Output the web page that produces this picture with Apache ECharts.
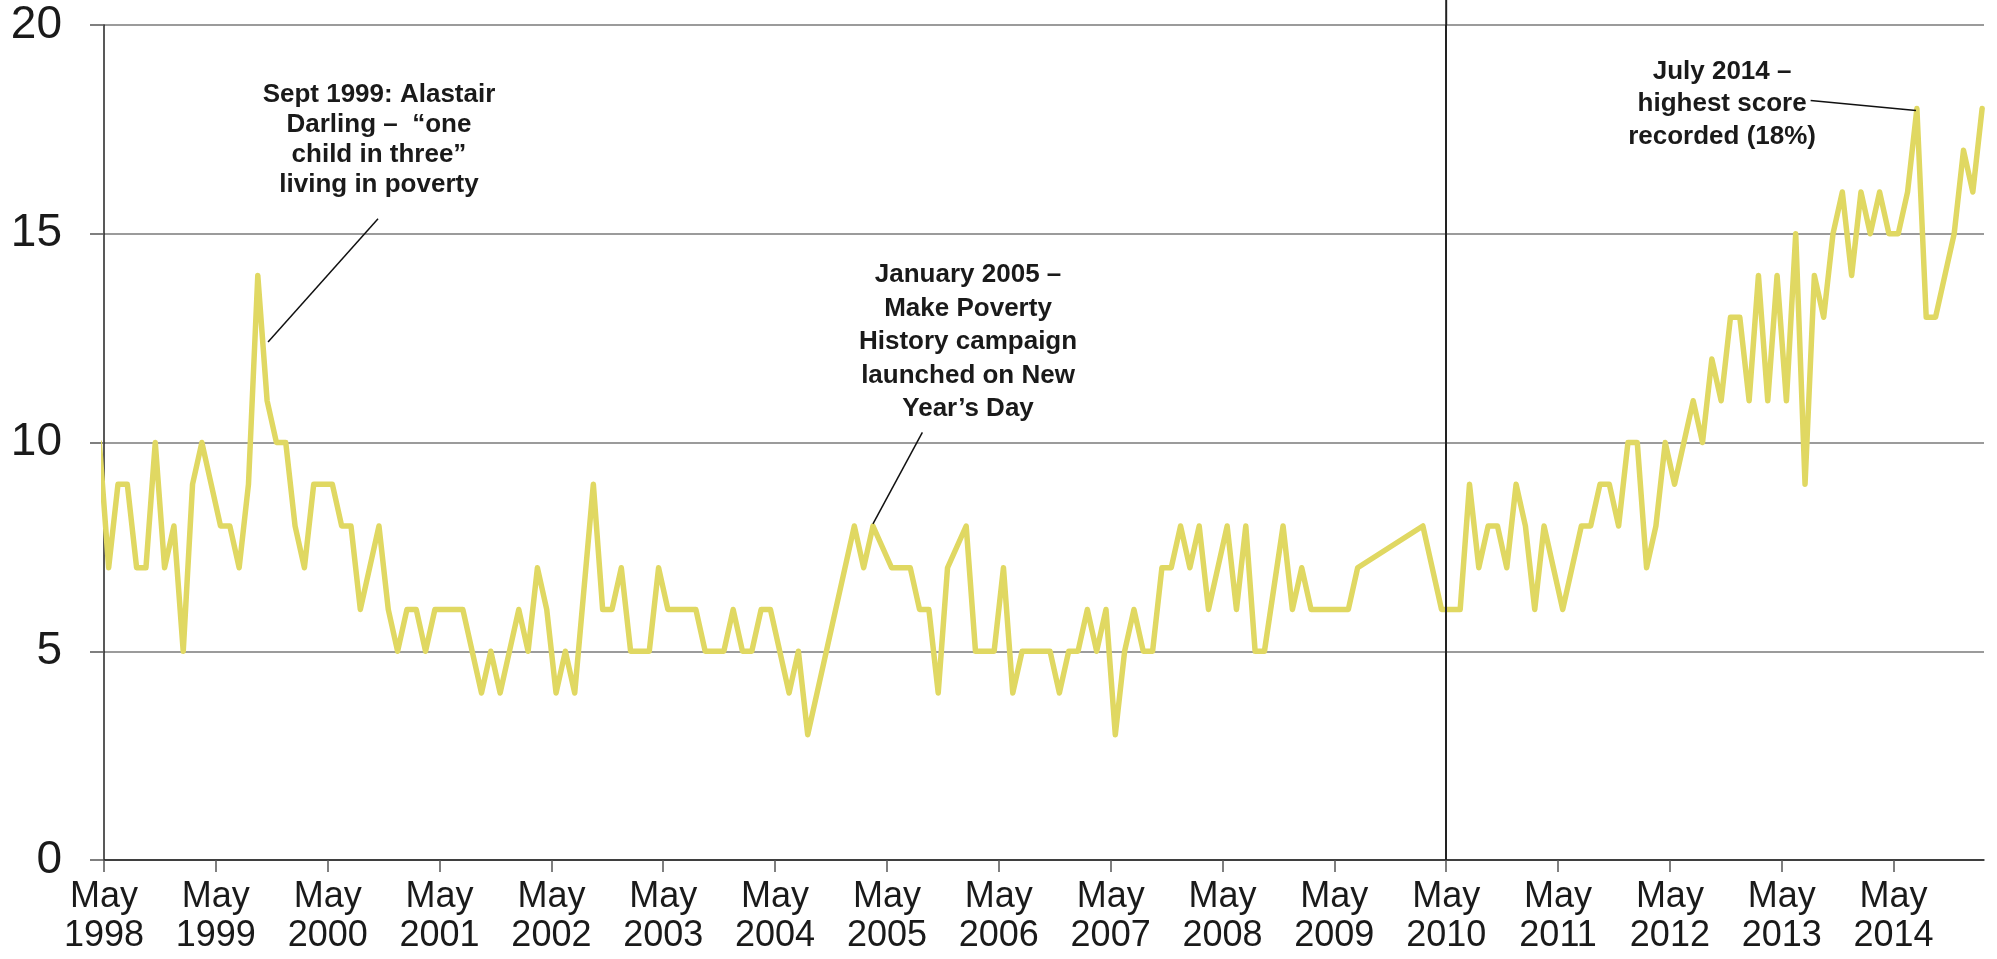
<!DOCTYPE html>
<html>
<head>
<meta charset="utf-8">
<style>
  html, body { margin: 0; padding: 0; background: #fff; }
  #chart { width: 1997px; height: 959px; }
</style>
<script src="https://cdn.jsdelivr.net/npm/echarts@6/dist/echarts.min.js"></script>
</head>
<body>
<div id="chart"></div>
<script>
// monthly scores (%), one array per calendar year; null = no survey that month
const y1998 = [10, 7, 9, 9, 7, 7, 10, 7, 8]            // Apr-Dec
const y1999 = [5, 9, 10, 9, 8, 8, 7, 9, 14, 11, 10, 10]
const y2000 = [8, 7, 9, 9, 9, 8, 8, 6, 7, 8, 6, 5]
const y2001 = [6, 6, 5, 6, 6, 6, 6, 5, 4, 5, 4, 5]
const y2002 = [6, 5, 7, 6, 4, 5, 4, null, 9, 6, 6, 7]
const y2003 = [5, 5, 5, 7, 6, 6, 6, 6, 5, 5, 5, 6]
const y2004 = [5, 5, 6, 6, 5, 4, 5, 3, null, null, null, null]
const y2005 = [8, 7, 8, null, 7, 7, 7, 6, 6, 4, 7, null]
const y2006 = [8, 5, 5, 5, 7, 4, 5, 5, 5, 5, 4, 5]
const y2007 = [5, 6, 5, 6, 3, 5, 6, 5, 5, 7, 7, 8]
const y2008 = [7, 8, 6, 7, 8, 6, 8, 5, 5, null, 8, 6]
const y2009 = [7, 6, 6, 6, 6, 6, 7, null, null, null, null, null]
const y2010 = [null, 8, 7, 6, 6, 6, 9, 7, 8, 8, 7, 9]
const y2011 = [8, 6, 8, 7, 6, 7, 8, 8, 9, 9, 8, 10]
const y2012 = [10, 7, 8, 10, 9, 10, 11, 10, 12, 11, 13, 13]
const y2013 = [11, 14, 11, 14, 11, 15, 9, 14, 13, 15, 16, 14]
const y2014 = [16, 15, 16, 15, 15, 16, 18, 13, 13, 14, 15, 17]
const y2015 = [16, 18]                                   // Jan-Feb

// x axis: months counted from May 1998, a tick every May
const tickLabels = ['May\n1998', 'May\n1999', 'May\n2000', 'May\n2001', 'May\n2002',
  'May\n2003', 'May\n2004', 'May\n2005', 'May\n2006', 'May\n2007', 'May\n2008',
  'May\n2009', 'May\n2010', 'May\n2011', 'May\n2012', 'May\n2013', 'May\n2014']
const yTicks = [0, 5, 10, 15, 20]
const dividerMonth = 144   // May 2010

const FONT = '"Liberation Sans", Arial, Helvetica, sans-serif'

// first value is April 1998, sitting half a month left of the axis
let scores = [].concat(y1998, y1999, y2000, y2001, y2002, y2003, y2004, y2005, y2006,
  y2007, y2008, y2009, y2010, y2011, y2012, y2013, y2014, y2015)
let seriesData = scores.map((v, i) => [i - 0.5, v])
let tickValues = tickLabels.map((t, i) => i * 12)

let chart = echarts.init(document.getElementById('chart'))
chart.setOption({
  animation: false,
  backgroundColor: '#fff',
  textStyle: { fontFamily: FONT },
  grid: {
    left: 104,
    right: 13,
    top: 25,
    bottom: 99,
    outerBoundsMode: 'none'
  },
  xAxis: {
    type: 'value',
    min: 0,
    max: 201.7,
    interval: 12,
    axisLine: { lineStyle: { color: '#222', width: 1.5 } },
    axisTick: {
      customValues: tickValues,
      length: 12,
      lineStyle: { color: '#555', width: 1.5 }
    },
    axisLabel: {
      customValues: tickValues,
      formatter: (v) => tickLabels[Math.round(v / 12)],
      fontFamily: FONT,
      fontSize: 36,
      lineHeight: 39,
      color: '#1a1a1a',
      margin: 18
    },
    splitLine: { show: false }
  },
  yAxis: {
    type: 'value',
    min: yTicks[0],
    max: yTicks[yTicks.length - 1],
    interval: 5,
    axisLine: { show: true, lineStyle: { color: '#222', width: 1.5 } },
    axisTick: { show: true, length: 14, lineStyle: { color: '#555', width: 1.5 } },
    axisLabel: {
      fontFamily: FONT,
      fontSize: 46,
      color: '#1a1a1a',
      margin: 42
    },
    splitLine: { lineStyle: { color: '#7a7a7a', width: 1.5 } }
  },
  series: [{
    type: 'line',
    data: seriesData,
    showSymbol: false,
    connectNulls: true,
    clip: true,
    lineStyle: { color: '#E0D862', width: 5.5, join: 'round', cap: 'round' },
    markLine: {
      silent: true,
      symbol: 'none',
      label: { show: false },
      lineStyle: { type: 'solid' },
      data: [
        // May 2010 divider
        [{ coord: [dividerMonth, 0], lineStyle: { type: 'solid', color: '#222', width: 2 } },
         { coord: [dividerMonth, 20] }],
        // annotation pointers
        [{ coord: [29.4, 15.36], lineStyle: { type: 'solid', color: '#111', width: 1.5 } },
         { coord: [17.6, 12.41] }],
        [{ coord: [87.8, 10.24], lineStyle: { type: 'solid', color: '#111', width: 1.5 } },
         { coord: [82.5, 8.05] }],
        [{ coord: [183.1, 18.19], lineStyle: { type: 'solid', color: '#111', width: 1.5 } },
         { coord: [194.4, 17.95] }]
      ]
    },
    markPoint: {
      silent: true,
      symbol: 'circle',
      symbolSize: 0,
      label: {
        show: true,
        position: 'inside',
        color: '#1a1a1a',
        fontFamily: FONT,
        fontWeight: 'bold',
        fontSize: 26,
        lineHeight: 30,
        align: 'center'
      },
      data: [
        { coord: [29.5, 17.24], label: { formatter: 'Sept 1999: Alastair\nDarling \u2013  \u201cone\nchild in three\u201d\nliving in poverty' } },
        { coord: [92.7, 12.4], label: { lineHeight: 33.5, formatter: 'January 2005 \u2013\nMake Poverty\nHistory campaign\nlaunched on New\nYear\u2019s Day' } },
        { coord: [173.6, 18.11], label: { lineHeight: 32.5, formatter: 'July 2014 \u2013\nhighest score\nrecorded (18%)' } }
      ]
    }
  }]
})

// the divider runs on past the top gridline to the top edge
let dividerTop = chart.convertToPixel({ gridIndex: 0 }, [dividerMonth, 20])
chart.setOption({
  graphic: [{
    type: 'line',
    silent: true,
    shape: { x1: dividerTop[0], y1: 0, x2: dividerTop[0], y2: dividerTop[1] },
    style: { stroke: '#222', lineWidth: 2 }
  }]
})
</script>
</body>
</html>
